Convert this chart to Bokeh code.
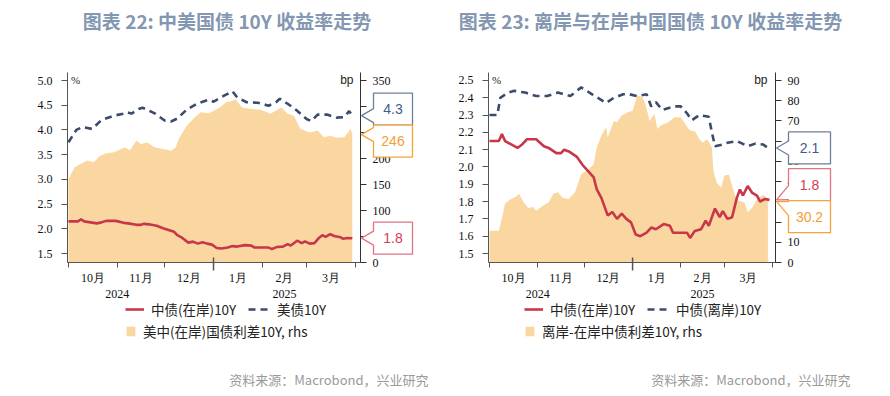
import pandas as pd
from bokeh.plotting import figure
from bokeh.layouts import row, column
from bokeh.models import (Range1d, LinearAxis, FixedTicker, PrintfTickFormatter, Legend, LegendItem)
from bokeh.core.properties import value
from bokeh.embed import file_html
from bokeh.resources import INLINE

# ---------------- data ----------------
BASE_DATE = "2024-10-01"
month_starts = ["2024-10-01", "2024-11-01", "2024-12-01", "2025-01-01", "2025-02-01", "2025-03-01", "2025-04-01"]
month_labels = ["10月", "11月", "12月", "1月", "2月", "3月"]
year_labels = ["2024", "2025"]
year_label_dates = ["2024-11-01", "2025-02-15"]

us_dates = ["2024-10-01", "2024-10-04", "2024-10-06", "2024-10-10", "2024-10-16", "2024-10-22", "2024-10-30",
            "2024-11-05", "2024-11-07", "2024-11-10", "2024-11-15", "2024-11-17", "2024-11-20", "2024-11-25",
            "2024-12-01", "2024-12-05", "2024-12-09", "2024-12-15", "2024-12-22", "2024-12-29", "2025-01-01",
            "2025-01-05", "2025-01-13", "2025-01-16", "2025-01-22", "2025-01-29", "2025-02-05", "2025-02-10",
            "2025-02-12", "2025-02-17", "2025-02-23", "2025-03-01", "2025-03-04", "2025-03-08", "2025-03-14",
            "2025-03-20", "2025-03-25", "2025-03-28", "2025-03-30"]
us_10y = [3.75, 3.90, 4.00, 4.06, 4.02, 4.20, 4.29, 4.33, 4.36, 4.33,
          4.43, 4.45, 4.41, 4.33, 4.19, 4.17, 4.23, 4.41, 4.54, 4.61,
          4.57, 4.65, 4.78, 4.66, 4.56, 4.55, 4.49, 4.57, 4.63, 4.53,
          4.39, 4.22, 4.18, 4.31, 4.31, 4.25, 4.26, 4.38, 4.29]

cn_dates = ["2024-10-01", "2024-10-07", "2024-10-09", "2024-10-11", "2024-10-15", "2024-10-19", "2024-10-22",
            "2024-10-25", "2024-10-31", "2024-11-05", "2024-11-08", "2024-11-13", "2024-11-16", "2024-11-18",
            "2024-11-21", "2024-11-26", "2024-11-30", "2024-12-03", "2024-12-07", "2024-12-09", "2024-12-12",
            "2024-12-16", "2024-12-19", "2024-12-22", "2024-12-25", "2024-12-28", "2024-12-31", "2025-01-03",
            "2025-01-06", "2025-01-10", "2025-01-13", "2025-01-16", "2025-01-21", "2025-01-25", "2025-01-27",
            "2025-02-02", "2025-02-05", "2025-02-07", "2025-02-10", "2025-02-14", "2025-02-17", "2025-02-19",
            "2025-02-23", "2025-02-26", "2025-02-28", "2025-03-03", "2025-03-06", "2025-03-09", "2025-03-11",
            "2025-03-13", "2025-03-16", "2025-03-19", "2025-03-22", "2025-03-24", "2025-03-27", "2025-03-30"]
cn_10y = [2.15, 2.15, 2.19, 2.15, 2.13, 2.11, 2.13, 2.16, 2.16,
          2.12, 2.11, 2.08, 2.08, 2.10, 2.09, 2.06, 2.01,
          1.98, 1.94, 1.87, 1.82, 1.72, 1.74, 1.70, 1.73, 1.70, 1.68,
          1.61, 1.60, 1.62, 1.65, 1.64, 1.67, 1.66, 1.62,
          1.62, 1.62, 1.59, 1.63, 1.64, 1.69, 1.66, 1.76, 1.71, 1.745,
          1.70, 1.71, 1.82, 1.87, 1.835, 1.89, 1.85, 1.835, 1.80, 1.815, 1.81]

us_cn_dates = ["2024-10-01", "2024-10-03", "2024-10-05", "2024-10-09", "2024-10-13", "2024-10-17", "2024-10-21",
               "2024-10-25", "2024-10-30", "2024-11-03", "2024-11-06", "2024-11-09", "2024-11-13", "2024-11-16",
               "2024-11-20", "2024-11-25", "2024-12-01", "2024-12-05", "2024-12-08", "2024-12-10", "2024-12-15",
               "2024-12-20", "2024-12-24", "2024-12-29", "2025-01-01", "2025-01-05", "2025-01-09", "2025-01-13",
               "2025-01-15", "2025-01-19", "2025-01-25", "2025-01-31", "2025-02-06", "2025-02-13", "2025-02-17",
               "2025-02-21", "2025-02-25", "2025-03-03", "2025-03-08", "2025-03-12", "2025-03-16", "2025-03-20",
               "2025-03-25", "2025-03-29", "2025-03-30"]
us_cn_spread = [160, 172, 183, 190, 196, 193, 205, 210, 212,
                218, 221, 216, 234, 228, 231, 221,
                218, 215, 221, 238, 263, 279, 289, 287,
                292, 298, 308, 311, 314, 298, 295, 294,
                286, 298, 286, 282, 257,
                250, 254, 241, 244, 240, 241, 257, 246]

cnh_dates = ["2024-10-01", "2024-10-06", "2024-10-08", "2024-10-13", "2024-10-17", "2024-10-24", "2024-10-31",
             "2024-11-07", "2024-11-14", "2024-11-22", "2024-11-29", "2024-12-06", "2024-12-15", "2024-12-20",
             "2024-12-26", "2024-12-30", "2025-01-04", "2025-01-10", "2025-01-13", "2025-01-16", "2025-01-20",
             "2025-01-28", "2025-02-01", "2025-02-05", "2025-02-08", "2025-02-13", "2025-02-19", "2025-02-21",
             "2025-02-23", "2025-02-28", "2025-03-03", "2025-03-09", "2025-03-16", "2025-03-21", "2025-03-26",
             "2025-03-29"]
cnh_10y = [2.30, 2.30, 2.40, 2.43, 2.44, 2.43, 2.41,
           2.41, 2.43, 2.41, 2.46,
           2.42, 2.37, 2.40, 2.42, 2.42,
           2.41, 2.42, 2.35, 2.375, 2.33, 2.35,
           2.35, 2.31, 2.27, 2.30, 2.29, 2.20, 2.12, 2.13,
           2.14, 2.15, 2.12, 2.135, 2.13, 2.11]

cnh_cn_dates = ["2024-10-01", "2024-10-07", "2024-10-09", "2024-10-11", "2024-10-14", "2024-10-18", "2024-10-20",
                "2024-10-23", "2024-10-26", "2024-10-29", "2024-10-31", "2024-11-04", "2024-11-08", "2024-11-11",
                "2024-11-14", "2024-11-17", "2024-11-21", "2024-11-25", "2024-11-29", "2024-12-04", "2024-12-07",
                "2024-12-09", "2024-12-12", "2024-12-15", "2024-12-16", "2024-12-20", "2024-12-22", "2024-12-25",
                "2024-12-29", "2025-01-01", "2025-01-04", "2025-01-07", "2025-01-09", "2025-01-12", "2025-01-15",
                "2025-01-17", "2025-01-19", "2025-01-24", "2025-01-28", "2025-02-01", "2025-02-06", "2025-02-08",
                "2025-02-10", "2025-02-13", "2025-02-15", "2025-02-18", "2025-02-21", "2025-02-22", "2025-02-24",
                "2025-02-27", "2025-03-01", "2025-03-04", "2025-03-06", "2025-03-08", "2025-03-10", "2025-03-14",
                "2025-03-16", "2025-03-19", "2025-03-22", "2025-03-26", "2025-03-28", "2025-03-29"]
cnh_cn_spread = [15.7, 15.7, 22, 29, 31, 32.5, 34, 29.7, 27, 27.5, 25.6,
                 28, 29.7, 34, 34.7, 32, 31.4, 34.7, 43.8,
                 46.3, 48.7, 57, 62.8, 67, 62, 70, 69.4, 72.7, 74.3,
                 75, 82.6, 82, 79, 70, 73.5, 66, 67.7, 69.3, 71.8,
                 71.8, 66, 65, 65, 61, 59.4, 61, 57, 45.4, 39.6, 37,
                 43, 43.4, 38, 33, 30.6, 29.7, 24.8, 27.2, 31.4, 33.5, 32.2, 30.2]

left_ticks_1 = [1.5, 2.0, 2.5, 3.0, 3.5, 4.0, 4.5, 5.0]
right_ticks_1 = [0, 50, 100, 150, 200, 250, 300, 350]
left_ticks_2 = [1.5, 1.6, 1.7, 1.8, 1.9, 2.0, 2.1, 2.2, 2.3, 2.4, 2.5]
right_ticks_2 = [0, 10, 20, 30, 40, 50, 60, 70, 80, 90]

titles = ["图表 22: 中美国债 10Y 收益率走势", "图表 23: 离岸与在岸中国国债 10Y 收益率走势"]
legend_labels_1 = ["中债(在岸)10Y", "美债10Y", "美中(在岸)国债利差10Y, rhs"]
legend_labels_2 = ["中债(在岸)10Y", "中债(离岸)10Y", "离岸-在岸中债利差10Y, rhs"]
source_text = "资料来源：Macrobond，兴业研究"

# ---------------- style ----------------
RED = "#C8364B"
BLUE = "#3C4B6C"
AREA = "#FAD7A1"
TITLE_C = "#8397B2"
AX_C = "#555555"
FIG_W = 445
MAIN_H = 300
LEG_H = 95
TOP = 72
FRAME_H = 190

base = pd.Timestamp(BASE_DATE)


def days(ds):
    return [float((pd.Timestamp(d) - base).days) for d in ds]


starts = days(month_starts)
mids = [(a + b) / 2 for a, b in zip(starts[:-1], starts[1:])]


def text(fig, xs, ys, texts, size, color, font="Noto Sans CJK SC", align="center", bold=False):
    fig.text(x=xs, y=ys, text=texts, text_align=align, text_baseline="middle",
             text_font=value(font), text_font_size=value(size),
             text_font_style="bold" if bold else "normal", text_color=color, level="overlay")


def build(cfg):
    W, H, ml = cfg["W"], FRAME_H, cfg["ml"]
    mr = FIG_W - ml - W
    xr, yl, yr = cfg["xr"], cfg["yl"], cfg["yr"]
    p = figure(width=FIG_W, height=MAIN_H, x_range=Range1d(*xr), y_range=Range1d(*yl),
               output_backend="svg", toolbar_location=None,
               min_border_left=ml, min_border_right=mr,
               min_border_top=TOP, min_border_bottom=MAIN_H - TOP - H)
    p.extra_y_ranges = {"bp": Range1d(*yr)}
    p.xgrid.visible = False
    p.ygrid.visible = False
    p.outline_line_color = None
    p.background_fill_color = "white"

    def X(px):
        return xr[0] + px * (xr[1] - xr[0]) / W

    def Y(py):
        return yl[0] + py * (yl[1] - yl[0]) / H

    # left axis
    la = p.yaxis[0]
    la.ticker = FixedTicker(ticks=cfg["lticks"])
    la.formatter = PrintfTickFormatter(format="%.1f")
    la.major_tick_out = 6
    la.major_tick_in = 0
    la.minor_tick_out = 0
    la.minor_tick_in = 0
    la.major_label_standoff = 9
    la.major_label_text_font = "Liberation Serif"
    la.major_label_text_font_size = "12px"
    la.major_label_text_color = "#111111"
    la.axis_line_color = AX_C
    la.major_tick_line_color = AX_C

    # right axis
    ra = LinearAxis(y_range_name="bp", ticker=FixedTicker(ticks=cfg["rticks"]),
                    formatter=PrintfTickFormatter(format="%d"))
    ra.major_tick_out = 6
    ra.major_tick_in = 0
    ra.minor_tick_out = 0
    ra.minor_tick_in = 0
    ra.major_label_standoff = 6
    ra.major_label_text_font = "Liberation Serif"
    ra.major_label_text_font_size = "12px"
    ra.major_label_text_color = "#111111"
    ra.axis_line_color = "#333333"
    ra.major_tick_line_color = "#333333"
    p.add_layout(ra, "right")

    # x axis
    xa = p.xaxis[0]
    xa.ticker = FixedTicker(ticks=mids, minor_ticks=starts)
    xa.major_label_overrides = {m: lab for m, lab in zip(mids, month_labels)}
    xa.major_tick_out = 0
    xa.major_tick_in = 0
    xa.minor_tick_out = 5
    xa.minor_tick_in = 0
    xa.minor_tick_line_color = AX_C
    xa.axis_line_color = AX_C
    xa.major_label_standoff = 3
    xa.major_label_text_font = "Liberation Serif"
    xa.major_label_text_font_size = "12px"
    xa.major_label_text_color = "#111111"

    # year boundary tick (longer, crossing the axis) and year labels
    jan1 = starts[3]
    p.line(x=[jan1, jan1], y=[Y(5), Y(-8)], line_color=AX_C, line_width=1.5, level="overlay")
    text(p, days(year_label_dates), [Y(-31)] * len(year_labels), year_labels, "12px", "#111111",
         font="Liberation Serif")

    # series
    p.varea(x=days(cfg["sp_dates"]), y1=0, y2=cfg["sp_vals"], y_range_name="bp",
            fill_color=AREA, fill_alpha=1)
    p.line(days(cn_dates), cn_10y, line_color=RED, line_width=2.6)
    p.line(days(cfg["b_dates"]), cfg["b_vals"], line_color=BLUE, line_width=2.6, line_dash="7 5")

    # texts
    text(p, [X(cfg["title_px"])], [Y(242)], [cfg["title"]], "19px", TITLE_C, bold=True)
    text(p, [X(8)], [Y(183)], ["%"], "11px", "#222222", font="Liberation Serif")
    text(p, [X(cfg["bp_px"])], [Y(183)], ["bp"], "12px", "#222222", font="Liberation Sans", align="right")

    # callouts for the last values
    def py_left(v):
        return (v - yl[0]) / (yl[1] - yl[0]) * H

    def py_right(v):
        return (v - yr[0]) / (yr[1] - yr[0]) * H

    items = [
        (py_left(cfg["b_vals"][-1]), f"{cfg['b_vals'][-1]:.1f}", "#6F7F9B", "#3F5C8C"),
        (py_left(cn_10y[-1]), f"{cn_10y[-1]:.1f}", "#E07482", "#D03E52"),
        (py_right(cfg["sp_vals"][-1]), cfg["sp_fmt"].format(cfg["sp_vals"][-1]), "#F5A43A", "#F2A038"),
    ]
    bh = 32
    items.sort(key=lambda t: -t[0])
    clusters = [[it] for it in items]

    def place(cl):
        m = sum(it[0] for it in cl) / len(cl)
        top = m + len(cl) * bh / 2
        return [top - bh / 2 - i * bh for i in range(len(cl))]

    changed = True
    while changed:
        changed = False
        for i in range(len(clusters) - 1):
            a, b = place(clusters[i]), place(clusters[i + 1])
            if a[-1] - b[0] < bh:
                clusters[i] = clusters[i] + clusters[i + 1]
                del clusters[i + 1]
                changed = True
                break
    bw = cfg["box_w"]
    for cl in clusters:
        for it, c in zip(cl, place(cl)):
            apex, txt, lc, tc = it
            L = W + 13
            R = L + bw
            T = c + bh / 2
            B = c - bh / 2
            bc = min(max(apex, B + 8), T - 8)
            bt, bb = bc + 7, bc - 7
            xs = [X(L), X(R), X(R), X(L), X(L), X(W + 1), X(L), X(L)]
            ys = [Y(T), Y(T), Y(B), Y(B), Y(bb), Y(apex), Y(bt), Y(T)]
            p.patch(xs, ys, fill_color="white", fill_alpha=1, line_color=lc, line_width=1.3,
                    level="overlay")
            text(p, [X((L + R) / 2)], [Y(c)], [txt], "14px", tc, font="Liberation Sans")

    # ---- legend / source strip below the chart (same frame columns, pixel units) ----
    lf = figure(width=FIG_W, height=LEG_H, x_range=Range1d(ml, ml + W), y_range=Range1d(0, LEG_H),
                output_backend="svg", toolbar_location=None,
                min_border_left=ml, min_border_right=mr, min_border_top=0, min_border_bottom=0,
                x_axis_type=None, y_axis_type=None)
    lf.outline_line_color = None
    off = [-1000.0, -999.0]
    k_red = lf.line(x=off, y=off, line_color=RED, line_width=2.6)
    k_blue = lf.line(x=off, y=off, line_color=BLUE, line_width=2.6, line_dash="7 5")
    k_area = lf.varea(x=off, y1=off, y2=off, fill_color=AREA, fill_alpha=1)
    labs = cfg["leglabels"]
    common = dict(orientation="horizontal", padding=0, margin=0, spacing=0,
                  border_line_alpha=0, background_fill_alpha=0, label_standoff=7, label_height=22,
                  label_text_font="Noto Sans CJK SC", label_text_font_size="13.5px",
                  label_text_color="#222222")
    lx1, lx2 = cfg["legx"]
    for r, lab, lx, ly, gw, gh in [(k_red, labs[0], lx1, 75, 19, 14),
                                   (k_blue, labs[1], lx2, 75, 22, 14),
                                   (k_area, labs[2], lx1, 53, 11, 12)]:
        lf.add_layout(Legend(items=[LegendItem(label=lab, renderers=[r])], location=(lx - ml, ly),
                             glyph_width=gw, glyph_height=gh, **common))
    text(lf, [cfg["src_x"]], [16], [source_text], "13px", "#9A9A9A", align="right")
    return column(p, lf)


c1 = build(dict(W=293, ml=67, xr=(-0.6, 185.2), yl=(1.318, 5.162), yr=(0, 365.4),
                lticks=left_ticks_1, rticks=right_ticks_1,
                sp_dates=us_cn_dates, sp_vals=us_cn_spread, sp_fmt="{:.0f}",
                b_dates=us_dates, b_vals=us_10y,
                legx=(125, 248), leglabels=legend_labels_1,
                title=titles[0], title_px=159.5, src_x=428, bp_px=286, box_w=39))

c2 = build(dict(W=287, ml=43, xr=(-0.64, 183.9), yl=(1.448, 2.546), yr=(0, 93.96),
                lticks=left_ticks_2, rticks=right_ticks_2,
                sp_dates=cnh_cn_dates, sp_vals=cnh_cn_spread, sp_fmt="{:.1f}",
                b_dates=cnh_dates, b_vals=cnh_10y,
                legx=(79, 202), leglabels=legend_labels_2,
                title=titles[1], title_px=162, src_x=405, bp_px=279, box_w=42))

layout = row(c1, c2)
open("out.html", "w").write(file_html(layout, INLINE))
